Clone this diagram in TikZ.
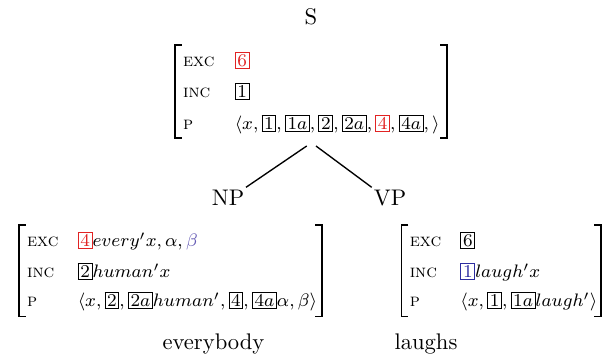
\documentclass[tikz,border=0pt]{standalone}
\usepackage{xcolor}
\definecolor{boxred}{RGB}{225,35,35}
\definecolor{boxblue}{RGB}{45,45,160}
\definecolor{betac}{RGB}{100,90,180}
\newcommand{\bx}[1]{\fbox{$#1$}}
\newcommand{\rbx}[1]{{\color{boxred}\fbox{$#1$}}}
\newcommand{\bbx}[1]{{\color{boxblue}\fbox{$#1$}}}
\setlength{\fboxsep}{0.75pt}
\setlength{\fboxrule}{0.4pt}
\begin{document}
\begin{tikzpicture}[x=0.4425pt,y=-0.4425pt,
  lab/.style={anchor=base west,inner sep=0pt,font=\footnotesize},
  val/.style={anchor=base west,inner sep=0pt,font=\footnotesize},
  word/.style={anchor=base,inner sep=0pt},
  brk/.style={line width=0.55pt},
  edge/.style={line width=0.6pt}]
\useasboundingbox (0,0) rectangle (606,359);

% --- S and top AVM
\node[word] (S) at (311,24) {S};
\node[lab] (tEl) at (182.7,66) {\textsc{exc}};
\node[lab] (tIl) at (182.7,97) {\textsc{inc}};
\node[lab] (tPl) at (182.7,129) {\textsc{p}};
\node[val] (tEv) at (234.3,66) {\rbx{6}};
\node[val] (tIv) at (234.3,97) {\bx{1}};
\node[val] (tPv) at (234.3,129) {$\langle x, \bx{1}, \bx{1a}, \bx{2}, \bx{2a}, \rbx{4}, \bx{4a}, \rangle$};
\coordinate (tTL) at (175,45);
\coordinate (tBR) at (447,138);
\draw[brk] ([xshift=3pt]tTL) -- (tTL) |- ([xshift=3pt]tTL |- tBR);
\draw[brk] ([xshift=-3pt]tTL -| tBR) -- (tTL -| tBR) -- (tBR) -- ([xshift=-3pt]tBR);

% --- NP / VP
\node[word] (NP) at (228,205) {NP};
\node[word] (VP) at (390,205) {VP};
\coordinate (eL1) at (306.7,146);
\coordinate (eR1) at (316,146);
\coordinate (eL2) at (246,187.3);
\coordinate (eR2) at (371.7,187.3);
\draw[edge] (eL1) -- (eL2);
\draw[edge] (eR1) -- (eR2);

% --- left AVM
\node[lab] (lEl) at (26.7,246.5) {\textsc{exc}};
\node[lab] (lIl) at (26.7,277.5) {\textsc{inc}};
\node[lab] (lPl) at (26.7,306.5) {\textsc{p}};
\node[val] (lEv) at (77.3,246.5) {\rbx{4}$every'x, \alpha, {\color{betac}\beta}$};
\node[val] (lIv) at (77.3,277.5) {\bx{2}$human'x$};
\node[val] (lPv) at (77.3,306.5) {$\langle x, \bx{2}, \bx{2a}human', \bx{4}, \bx{4a}\alpha, \beta\rangle$};
\coordinate (lTL) at (19,225);
\coordinate (lBR) at (322,316.7);
\draw[brk] ([xshift=3pt]lTL) -- (lTL) |- ([xshift=3pt]lTL |- lBR);
\draw[brk] ([xshift=-3pt]lTL -| lBR) -- (lTL -| lBR) -- (lBR) -- ([xshift=-3pt]lBR);

% --- right AVM
\node[lab] (rEl) at (409.3,246.5) {\textsc{exc}};
\node[lab] (rIl) at (409.3,277.5) {\textsc{inc}};
\node[lab] (rPl) at (409.3,306.5) {\textsc{p}};
\node[val] (rEv) at (460,246.5) {\bx{6}};
\node[val] (rIv) at (460,277.5) {\bbx{1}$laugh'x$};
\node[val] (rPv) at (460,306.5) {$\langle x, \bx{1}, \bx{1a}laugh'\rangle$};
\coordinate (rTL) at (401.7,225);
\coordinate (rBR) at (601,316.7);
\draw[brk] ([xshift=3pt]rTL) -- (rTL) |- ([xshift=3pt]rTL |- rBR);
\draw[brk] ([xshift=-3pt]rTL -| rBR) -- (rTL -| rBR) -- (rBR) -- ([xshift=-3pt]rBR);

% --- words
\node[word] (every) at (213.5,349) {everybody};
\node[word] (laughs) at (426,349) {laughs};
\end{tikzpicture}
\end{document}
